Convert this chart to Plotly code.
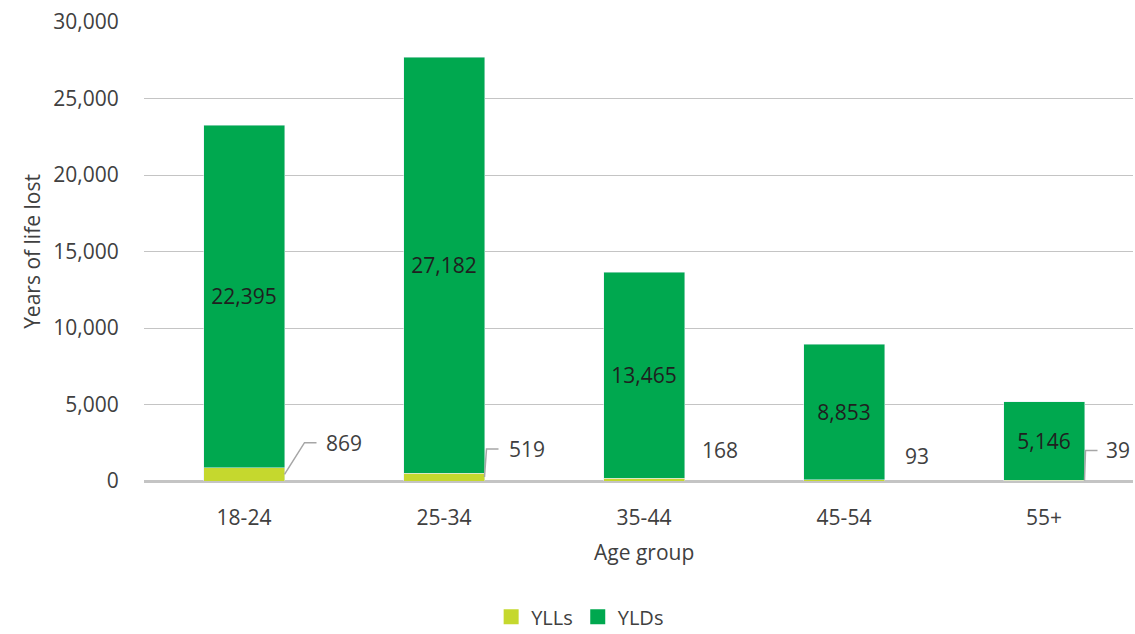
import plotly.graph_objects as go

# Data
age_groups = ["18-24", "25-34", "35-44", "45-54", "55+"]
ylls = [869, 519, 168, 93, 39]
ylds = [22395, 27182, 13465, 8853, 5146]
y_ticks = [0, 5000, 10000, 15000, 20000, 25000, 30000]

# Colours and styling
YLL_COLOR = "#C5D82E"
YLD_COLOR = "#00A84F"
TEXT_COLOR = "#404040"
GRID_COLOR = "#C4C4C4"
LEADER_COLOR = "#A6A6A6"
CLEAR = "rgba(0,0,0,0)"
FONT = "Open Sans"

W, H = 1135, 634
M_L, M_R, M_T, M_B = 144, 2, 22, 153
BAR_WIDTH = 0.405
X_RANGE = [-0.5, -0.5 + (W - M_L - M_R) / 200.0]
Y_RANGE = [0, 30000]

# pixel -> data unit conversions for label offsets
px_x = (X_RANGE[1] - X_RANGE[0]) / (W - M_L - M_R)
px_y = (Y_RANGE[1] - Y_RANGE[0]) / (H - M_T - M_B)

# YLL label placement (pixel offsets from the bar's right edge / value)
label_dx = [59, 42, 35, 32, 33]
label_dy = [25, 24, 28, 24, 30]
# leader lines: elbow x offset and end x offset (pixels); None = no leader
leader = [(20, 32), (2, 14), None, None, (1, 13)]

x_pos = list(range(len(age_groups)))

fig = go.Figure()
fig.add_trace(go.Bar(
    x=x_pos, y=ylls, name="YLLs", marker_color=YLL_COLOR,
    width=BAR_WIDTH, hoverinfo="y+name", showlegend=False,
))
fig.add_trace(go.Bar(
    x=x_pos, y=ylds, name="YLDs", marker_color=YLD_COLOR,
    width=BAR_WIDTH, text=[f"{v:,}" for v in ylds],
    textposition="inside", insidetextanchor="middle",
    textfont=dict(family=FONT, size=21, color="#1f1f1f"),
    hoverinfo="y+name", showlegend=False,
))

# square legend keys
for name, color in [("YLLs", YLL_COLOR), ("YLDs", YLD_COLOR)]:
    fig.add_trace(go.Scatter(
        x=[None], y=[None], mode="markers", name=name,
        marker=dict(symbol="square", size=15, color=color),
    ))

annotations = []
for i, (v, dx, dy, ld) in enumerate(zip(ylls, label_dx, label_dy, leader)):
    edge_x = x_pos[i] + BAR_WIDTH / 2
    label_y = v + dy * px_y
    annotations.append(dict(
        x=edge_x + dx * px_x, y=label_y, xref="x", yref="y",
        text=f"{v:,}", showarrow=False, xanchor="center", yanchor="middle",
        font=dict(family=FONT, size=21, color=TEXT_COLOR),
    ))
    if ld is not None:
        fig.add_trace(go.Scatter(
            x=[edge_x, edge_x + ld[0] * px_x, edge_x + ld[1] * px_x],
            y=[v / 2, label_y, label_y],
            mode="lines", line=dict(color=LEADER_COLOR, width=1.5),
            showlegend=False, hoverinfo="skip", cliponaxis=False,
        ))

annotations.append(dict(
    x=2, y=-0.155, xref="x", yref="paper", text="Age group",
    showarrow=False, xanchor="center", yanchor="middle",
    font=dict(family=FONT, size=21, color=TEXT_COLOR),
))

fig.update_layout(
    barmode="stack",
    width=W, height=H,
    margin=dict(l=M_L, r=M_R, t=M_T, b=M_B, autoexpand=False),
    paper_bgcolor="white", plot_bgcolor="white",
    font=dict(family=FONT, size=21, color=TEXT_COLOR),
    annotations=annotations,
    legend=dict(
        orientation="h", x=0.441, xanchor="center", y=-0.296, yanchor="middle",
        font=dict(family=FONT, size=20, color=TEXT_COLOR),
        traceorder="normal", itemwidth=30, tracegroupgap=0,
    ),
    xaxis=dict(
        range=X_RANGE, tickvals=x_pos, ticktext=age_groups,
        showgrid=False, showline=False, zeroline=False,
        ticks="outside", ticklen=18, tickcolor=CLEAR,
        tickfont=dict(family=FONT, size=21, color=TEXT_COLOR),
    ),
    yaxis=dict(
        range=Y_RANGE, tickvals=y_ticks, tickformat=",",
        showgrid=True, gridcolor=GRID_COLOR, gridwidth=1.3,
        zeroline=True, zerolinecolor=GRID_COLOR, zerolinewidth=2.5,
        showline=False, ticks="outside", ticklen=20, tickcolor=CLEAR,
        tickfont=dict(family=FONT, size=21, color=TEXT_COLOR),
        title=dict(text="Years of life lost", standoff=6,
                   font=dict(family=FONT, size=21, color=TEXT_COLOR)),
    ),
)

fig.write_html("out.html")
